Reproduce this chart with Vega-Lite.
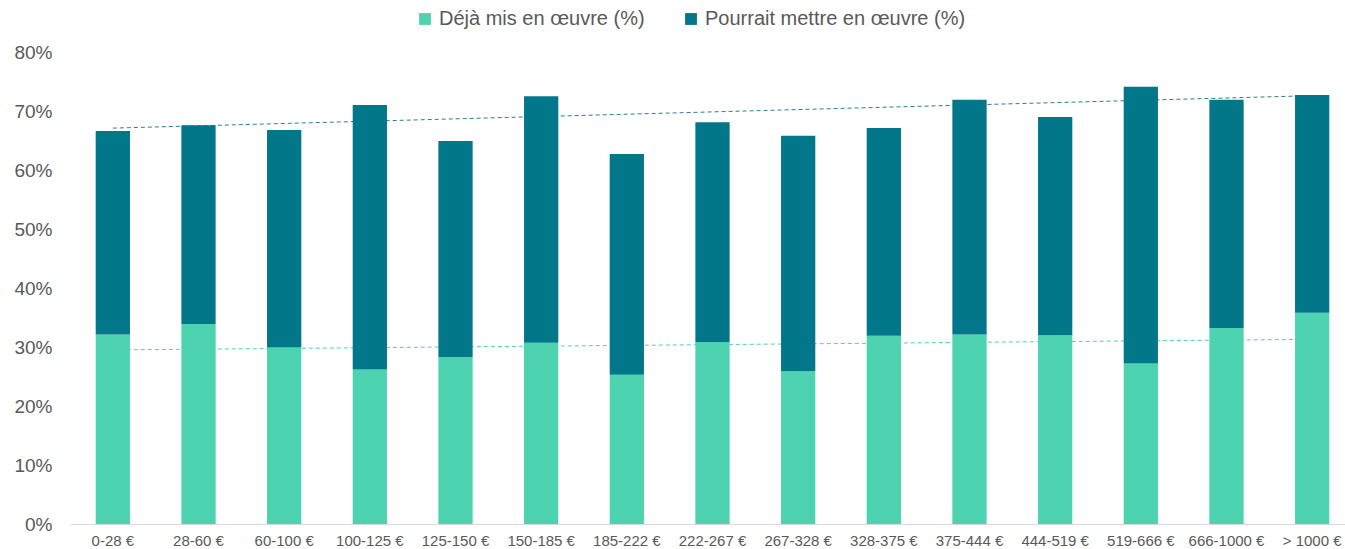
{
  "$schema": "https://vega.github.io/schema/vega-lite/v6.json",
  "width": 1285,
  "height": 472,
  "autosize": {"type": "none"},
  "padding": {"left": 70, "top": 52, "right": 0, "bottom": 25},
  "background": "white",
  "config": {
    "view": {"stroke": null},
    "font": "Liberation Sans",
    "axis": {"labelFont": "Liberation Sans", "labelColor": "#595959", "grid": false, "ticks": false, "title": null},
    "legend": {"labelFont": "Liberation Sans"}
  },
  "datasets": {
    "bars": [
      {"cat": "0-28 €", "serie": "Déjà mis en œuvre (%)", "value": 32.1},
      {"cat": "0-28 €", "serie": "Pourrait mettre en œuvre (%)", "value": 34.5},
      {"cat": "28-60 €", "serie": "Déjà mis en œuvre (%)", "value": 33.9},
      {"cat": "28-60 €", "serie": "Pourrait mettre en œuvre (%)", "value": 33.7},
      {"cat": "60-100 €", "serie": "Déjà mis en œuvre (%)", "value": 29.9},
      {"cat": "60-100 €", "serie": "Pourrait mettre en œuvre (%)", "value": 36.9},
      {"cat": "100-125 €", "serie": "Déjà mis en œuvre (%)", "value": 26.2},
      {"cat": "100-125 €", "serie": "Pourrait mettre en œuvre (%)", "value": 44.8},
      {"cat": "125-150 €", "serie": "Déjà mis en œuvre (%)", "value": 28.3},
      {"cat": "125-150 €", "serie": "Pourrait mettre en œuvre (%)", "value": 36.6},
      {"cat": "150-185 €", "serie": "Déjà mis en œuvre (%)", "value": 30.7},
      {"cat": "150-185 €", "serie": "Pourrait mettre en œuvre (%)", "value": 41.8},
      {"cat": "185-222 €", "serie": "Déjà mis en œuvre (%)", "value": 25.3},
      {"cat": "185-222 €", "serie": "Pourrait mettre en œuvre (%)", "value": 37.4},
      {"cat": "222-267 €", "serie": "Déjà mis en œuvre (%)", "value": 30.8},
      {"cat": "222-267 €", "serie": "Pourrait mettre en œuvre (%)", "value": 37.3},
      {"cat": "267-328 €", "serie": "Déjà mis en œuvre (%)", "value": 25.9},
      {"cat": "267-328 €", "serie": "Pourrait mettre en œuvre (%)", "value": 39.9},
      {"cat": "328-375 €", "serie": "Déjà mis en œuvre (%)", "value": 31.9},
      {"cat": "328-375 €", "serie": "Pourrait mettre en œuvre (%)", "value": 35.2},
      {"cat": "375-444 €", "serie": "Déjà mis en œuvre (%)", "value": 32.1},
      {"cat": "375-444 €", "serie": "Pourrait mettre en œuvre (%)", "value": 39.8},
      {"cat": "444-519 €", "serie": "Déjà mis en œuvre (%)", "value": 32.0},
      {"cat": "444-519 €", "serie": "Pourrait mettre en œuvre (%)", "value": 37.0},
      {"cat": "519-666 €", "serie": "Déjà mis en œuvre (%)", "value": 27.2},
      {"cat": "519-666 €", "serie": "Pourrait mettre en œuvre (%)", "value": 46.9},
      {"cat": "666-1000 €", "serie": "Déjà mis en œuvre (%)", "value": 33.2},
      {"cat": "666-1000 €", "serie": "Pourrait mettre en œuvre (%)", "value": 38.7},
      {"cat": "> 1000 €", "serie": "Déjà mis en œuvre (%)", "value": 35.8},
      {"cat": "> 1000 €", "serie": "Pourrait mettre en œuvre (%)", "value": 36.9}
    ],
    "trends": [
      {"cat": "0-28 €", "serie": "Déjà mis en œuvre (%)", "trend": 29.5},
      {"cat": "> 1000 €", "serie": "Déjà mis en œuvre (%)", "trend": 31.3},
      {"cat": "0-28 €", "serie": "Pourrait mettre en œuvre (%)", "trend": 67.1},
      {"cat": "> 1000 €", "serie": "Pourrait mettre en œuvre (%)", "trend": 72.6}
    ]
  },
  "encoding": {
    "x": {
      "field": "cat",
      "type": "ordinal",
      "sort": null,
      "scale": {
        "domain": ["0-28 €", "28-60 €", "60-100 €", "100-125 €", "125-150 €", "150-185 €", "185-222 €", "222-267 €", "267-328 €", "328-375 €", "375-444 €", "444-519 €", "519-666 €", "666-1000 €", "> 1000 €"],
        "paddingInner": 0.6,
        "paddingOuter": 0.3
      },
      "axis": {"labelAngle": 0, "labelFontSize": 15, "labelPadding": 9, "domainColor": "#d9d9d9", "domainWidth": 1}
    }
  },
  "layer": [
    {
      "data": {"name": "trends"},
      "transform": [{"filter": "datum.serie == 'Déjà mis en œuvre (%)'"}],
      "mark": {"type": "line", "strokeWidth": 1, "strokeDash": [4, 3], "color": "#4ED3B0"},
      "encoding": {
        "y": {"field": "trend", "type": "quantitative", "scale": {"domain": [0, 80]}}
      }
    },
    {
      "data": {"name": "trends"},
      "transform": [{"filter": "datum.serie == 'Pourrait mettre en œuvre (%)'"}],
      "mark": {"type": "line", "strokeWidth": 1, "strokeDash": [4, 3], "color": "#2a7f8f"},
      "encoding": {
        "y": {"field": "trend", "type": "quantitative", "scale": {"domain": [0, 80]}}
      }
    },
    {
      "data": {"name": "bars"},
      "mark": {"type": "bar"},
      "encoding": {
        "y": {
          "field": "value",
          "type": "quantitative",
          "stack": "zero",
          "scale": {"domain": [0, 80], "nice": false},
          "axis": {"values": [0, 10, 20, 30, 40, 50, 60, 70, 80], "labelExpr": "datum.value + '%'", "labelFontSize": 19, "labelPadding": 18, "domain": false}
        },
        "color": {
          "field": "serie",
          "type": "nominal",
          "scale": {"domain": ["Déjà mis en œuvre (%)", "Pourrait mettre en œuvre (%)"], "range": ["#4ED3B0", "#017789"]},
          "legend": {
            "title": null,
            "orient": "none",
            "legendX": 345,
            "legendY": -43,
            "direction": "horizontal",
            "symbolType": "square",
            "symbolSize": 140,
            "symbolStrokeWidth": 0,
            "labelFontSize": 20,
            "labelLimit": 500,
            "labelColor": "#595959",
            "labelOffset": 4,
            "columnPadding": 36
          }
        },
        "order": {"field": "serie", "sort": "ascending"}
      }
    }
  ]
}
